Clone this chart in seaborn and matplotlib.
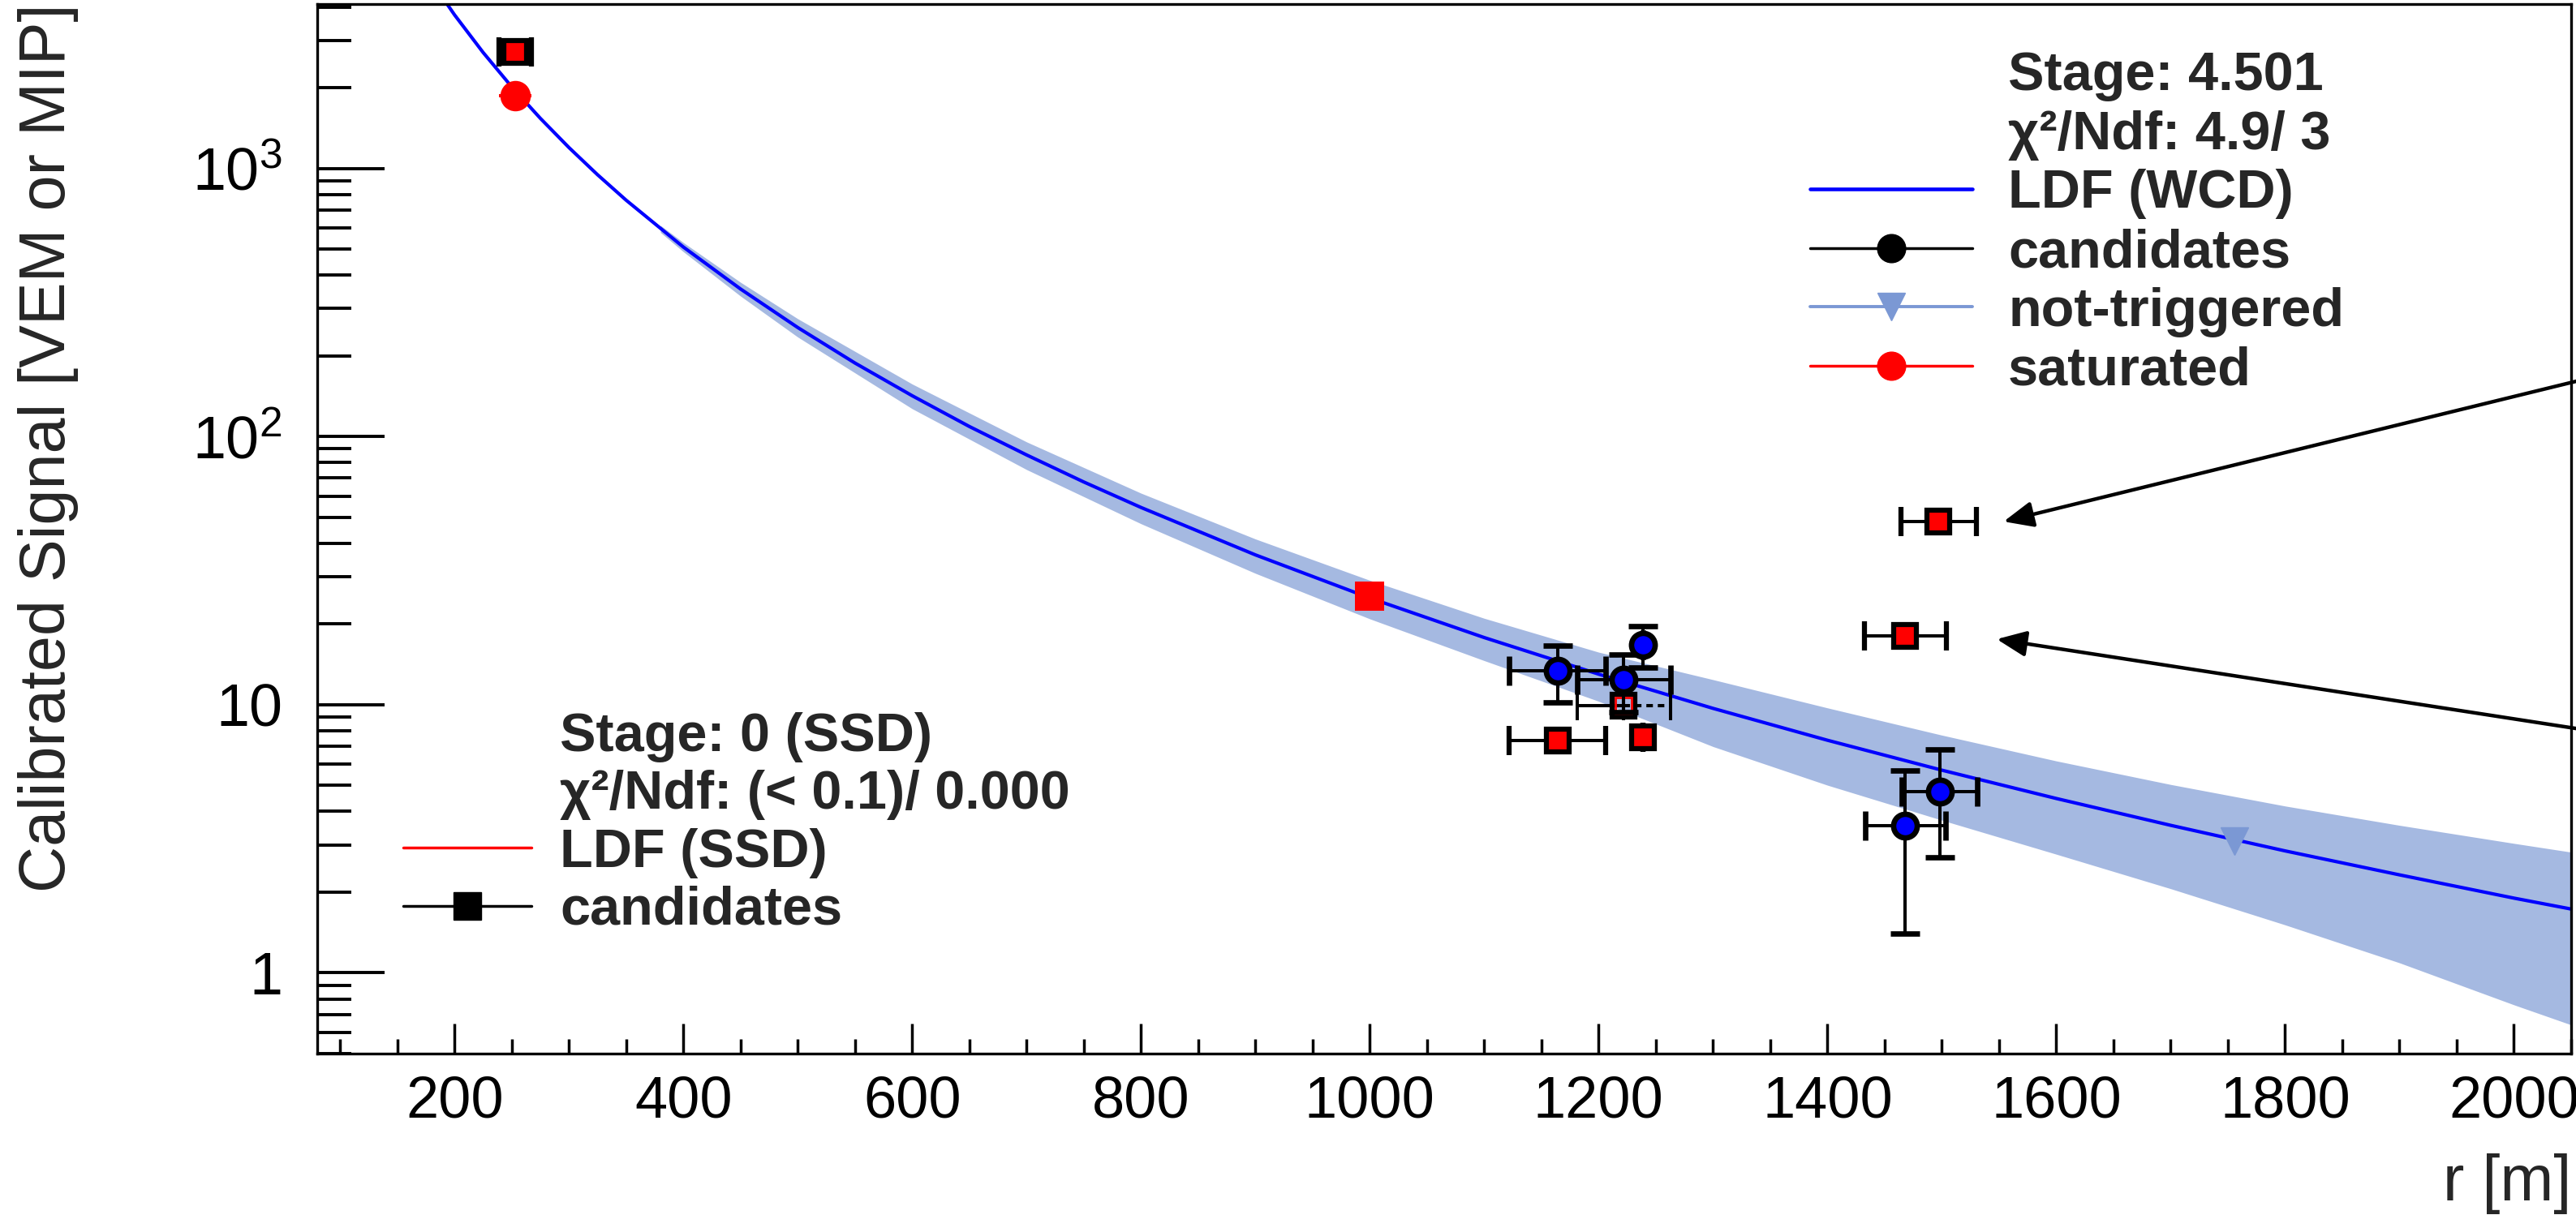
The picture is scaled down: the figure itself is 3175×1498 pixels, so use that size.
import numpy as np
import pandas as pd
import matplotlib
matplotlib.use("Agg")
import matplotlib.pyplot as plt
import seaborn as sns
from matplotlib.lines import Line2D
from matplotlib.ticker import MultipleLocator, LogLocator, NullFormatter

# ---------------- data ----------------
# LDF (WCD) fit curve
r_ldf = [180, 200, 225, 250, 275, 300, 325, 350, 400, 450, 500, 550, 600, 650, 700,
         750, 800, 900, 1000, 1100, 1200, 1300, 1400, 1500, 1600, 1700, 1800, 1900, 2000, 2050]
s_ldf = [4970, 3737, 2705, 2014, 1537, 1196, 947, 761, 509, 355, 255, 188, 142, 109, 85.4,
         67.7, 54.4, 36.2, 25.0, 17.8, 13.0, 9.69, 7.37, 5.70, 4.47, 3.55, 2.85, 2.32, 1.90, 1.73]

# LDF uncertainty band
r_band = [380, 400, 450, 500, 600, 700, 800, 900, 1000, 1100, 1200, 1300, 1400, 1500,
          1600, 1700, 1800, 1900, 2000, 2050]
band_hi = [613, 529, 376, 275, 157, 95.5, 61.5, 41.5, 29.1, 21.0, 15.7, 12.4, 9.73, 7.70,
           6.17, 5.04, 4.19, 3.55, 3.04, 2.82]
band_lo = [577, 489, 334, 235, 127, 75.3, 47.3, 30.9, 20.9, 14.6, 10.3, 6.98, 5.01, 3.71,
           2.77, 2.06, 1.51, 1.09, 0.76, 0.64]

# WCD candidates (blue circles)
r_wcd = [1164, 1222, 1239, 1468, 1498]
s_wcd = [13.4, 12.4, 16.7, 3.55, 4.75]
r_wcd_err = [42, 41, 0, 35, 33]
s_wcd_err = [3.2, 3.0, 2.9, 2.15, 2.05]

# WCD saturated
r_sat = [253]
s_sat = [1870]
r_sat_err = [14]

# WCD not-triggered
r_nt = [1756]
s_nt = [3.09]

# SSD candidates (red squares, black edge)
r_ssd = [253, 1164, 1239, 1468, 1497]
s_ssd = [2720, 7.36, 7.57, 18.1, 48.2]
r_ssd_err = [14, 42, 0, 36, 33]

# SSD hidden candidate (open square)
r_ssd_open = [1222]
s_ssd_open = [9.9]
r_ssd_open_err = [41]

# SSD reference point
r_ssd_ref = [1000]
s_ssd_ref = [25.4]

# axis ticks
x_ticks = [200, 400, 600, 800, 1000, 1200, 1400, 1600, 1800, 2000]
y_ticks = [1, 10, 100, 1000]
y_tick_labels = ['1', '10', r'$\mathregular{10^{2}}$', r'$\mathregular{10^{3}}$']

# legend texts
legend_wcd_labels = ['Stage: 4.501', 'χ²/Ndf: 4.9/ 3', 'LDF (WCD)', 'candidates',
                     'not-triggered', 'saturated']
legend_ssd_labels = ['Stage: 0 (SSD)', 'χ²/Ndf: (< 0.1)/ 0.000', 'LDF (SSD)', 'candidates']

# ---------------- style ----------------
sns.set_theme(style="ticks")
plt.rcParams['font.family'] = ['Liberation Sans', 'DejaVu Sans']
plt.rcParams['mathtext.fontset'] = 'custom'
plt.rcParams['mathtext.rm'] = 'Liberation Sans'
plt.rcParams['mathtext.it'] = 'Liberation Sans:italic'
plt.rcParams['mathtext.bf'] = 'Liberation Sans:bold'

W, H = 3175, 1498
fig = plt.figure(figsize=(W / 100, H / 100), dpi=100)
fig.patch.set_facecolor('white')
ax = fig.add_axes([391 / W, 199 / H, 2778 / W, 1294 / H])
ax.set_facecolor('white')

BAND = '#7b98d4'
ERR = dict(ecolor='black', elinewidth=2.9, capsize=13, capthick=2.9)

# band
ax.fill_between(r_band, band_lo, band_hi, color=BAND, alpha=0.68, linewidth=0, zorder=1)

# LDF curve
ldf_df = pd.DataFrame({'r': r_ldf, 's': s_ldf})
sns.lineplot(data=ldf_df, x='r', y='s', color='#0000ff', lw=3.0, ax=ax, zorder=2,
             estimator=None, sort=True)

# SSD reference square
sns.scatterplot(x=r_ssd_ref, y=s_ssd_ref, marker='s', s=26 ** 2, color='red',
                edgecolor='none', linewidth=0, ax=ax, zorder=3)

# not triggered
ax.plot(r_nt, s_nt, linestyle='none', marker='v', ms=24, color=BAND, zorder=3)

# SSD open square at 1222 (error bar: solid left, dashed right)
ax.errorbar(r_ssd_open, s_ssd_open, xerr=[r_ssd_open_err, [0]], fmt='none', zorder=3, **ERR)
eb_r = ax.errorbar(r_ssd_open, s_ssd_open, xerr=[[0], r_ssd_open_err], fmt='none', zorder=3, **ERR)
for c in eb_r[2]:
    c.set_linestyle((0, (2, 1.5)))
ax.plot(r_ssd_open, s_ssd_open, linestyle='none', marker='s', ms=20, mfc='none',
        mec='black', mew=4.5, zorder=3)
ax.plot(r_ssd_open, s_ssd_open, linestyle='none', marker='s', ms=14, mfc='none',
        mec='red', mew=2.0, zorder=3)

# SSD candidates
ax.errorbar(r_ssd, s_ssd, xerr=r_ssd_err, fmt='s', ms=20, mfc='red', mec='black',
            mew=4.5, zorder=4, **ERR)

# saturated WCD
ax.errorbar(r_sat, s_sat, xerr=r_sat_err, fmt='o', ms=27, mfc='red', mec='red', mew=0,
            ecolor='red', elinewidth=2.9, capsize=13, capthick=2.9, zorder=4)

# WCD candidates
ax.errorbar(r_wcd, s_wcd, xerr=r_wcd_err, yerr=s_wcd_err, fmt='o', ms=21, mfc='#0000ff',
            mec='black', mew=4.8, zorder=5, **ERR)

# arrows pointing at the two SSD squares near 1500 m
arrow_kw = dict(arrowstyle='-|>,head_length=0.55,head_width=0.24', color='black', lw=3.2,
                mutation_scale=40, shrinkA=0, shrinkB=0)
ax.annotate('', xy=(r_ssd[4] + 57, s_ssd[4]), xycoords='data',
            xytext=(3200, H - 464), textcoords='figure pixels',
            arrowprops=arrow_kw, annotation_clip=False)
ax.annotate('', xy=(r_ssd[3] + 80, s_ssd[3] * 0.97), xycoords='data',
            xytext=(3200, H - 902), textcoords='figure pixels',
            arrowprops=arrow_kw, annotation_clip=False)

# axes
ax.set_yscale('log')
ax.set_xlim(80, 2050)
ax.set_ylim(0.5, 4100)
ax.set_xticks(x_ticks)
ax.set_xticklabels([str(v) for v in x_ticks])
ax.xaxis.set_minor_locator(MultipleLocator(50))
ax.set_yticks(y_ticks)
ax.set_yticklabels(y_tick_labels)
ax.yaxis.set_minor_locator(LogLocator(base=10, subs=range(2, 10), numticks=20))
ax.yaxis.set_minor_formatter(NullFormatter())

ax.tick_params(axis='both', which='both', direction='in', top=False, right=False,
               color='black', labelcolor='black')
ax.tick_params(axis='x', which='major', length=27, width=2.5, labelsize=52, pad=19)
ax.tick_params(axis='x', which='minor', length=13, width=2.5)
ax.tick_params(axis='y', which='major', length=60, width=2.8, labelsize=53, pad=31)
ax.tick_params(axis='y', which='minor', length=30, width=2.8)
for sp in ax.spines.values():
    sp.set_visible(True)
    sp.set_color('black')
    sp.set_linewidth(2.4)

ax.set_xlabel('r [m]', fontsize=57, loc='right')
ax.set_ylabel('Calibrated Signal [VEM or MIP]', fontsize=57, loc='top')
ax.xaxis.set_label_coords(1.0, -0.095)
ax.yaxis.set_label_coords(-0.106, 1.0)

# legends
blank = Line2D([], [], linestyle='none')
h_wcd = [blank, blank,
         Line2D([], [], color='#0000ff', lw=3.3),
         Line2D([], [], color='black', lw=2.5, marker='o', ms=25, mfc='black', mec='black'),
         Line2D([], [], color=BAND, lw=2.8, marker='v', ms=25, mfc=BAND, mec=BAND),
         Line2D([], [], color='red', lw=2.5, marker='o', ms=25, mfc='red', mec='red')]
leg1 = fig.legend(h_wcd, legend_wcd_labels, loc='upper left',
                  bbox_to_anchor=(2231 / W, (H - 63) / H), frameon=False,
                  prop={'weight': 'bold', 'size': 48}, handlelength=3.0, handletextpad=0.66,
                  labelspacing=0.16, borderpad=0, borderaxespad=0, numpoints=1)

h_ssd = [blank, blank,
         Line2D([], [], color='red', lw=2.5),
         Line2D([], [], color='black', lw=2.5, marker='s', ms=25, mfc='black', mec='black')]
leg2 = fig.legend(h_ssd, legend_ssd_labels, loc='upper left',
                  bbox_to_anchor=(497 / W, (H - 878) / H), frameon=False,
                  prop={'weight': 'bold', 'size': 48}, handlelength=2.37, handletextpad=0.53,
                  labelspacing=0.14, borderpad=0, borderaxespad=0, numpoints=1)

fig.savefig('out.png', dpi=100, facecolor='white')
